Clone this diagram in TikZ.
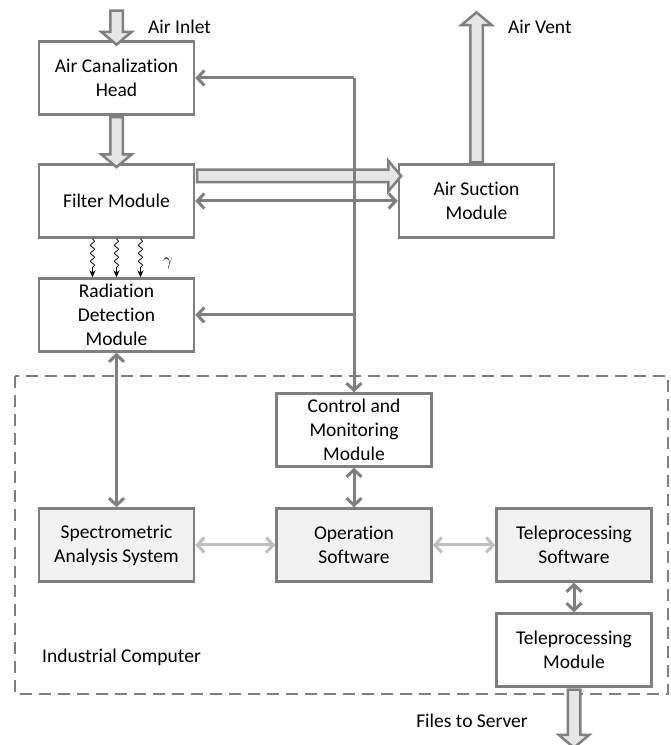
\documentclass[tikz,border=0pt]{standalone}
\usepackage{fontspec}
\setmainfont{Carlito}[Ligatures=NoCommon]
\usetikzlibrary{arrows.meta,shapes.arrows,decorations.pathmorphing,calc}
\definecolor{edge}{RGB}{127,127,127}
\definecolor{pale}{RGB}{191,191,191}
\definecolor{boxfill}{RGB}{242,242,242}
\definecolor{flowfill}{RGB}{230,230,230}
\tikzset{
  block/.style={draw=edge,line width=2.5pt,minimum width=155pt,minimum height=73pt,
    align=center,inner sep=2pt,font=\fontsize{19.5}{24}\selectfont},
  softblock/.style={block,fill=boxfill},
  tag/.style={font=\fontsize{19.5}{24}\selectfont,inner sep=0pt},
  barb/.tip={Straight Barb[length=7pt,width=15pt]},
  link/.style={draw=edge,line width=3pt,barb-barb},
  feed/.style={draw=edge,line width=3pt,-barb},
  palelink/.style={draw=pale,line width=3pt,barb-barb},
  flow/.style={single arrow,draw=edge,fill=flowfill,line width=2.5pt,inner sep=5pt,
    single arrow head extend=9pt,single arrow tip angle=100,minimum height=#1},
  ray/.style={black,line width=0.8pt,-{Stealth[length=7pt,width=6pt]},
    decorate,decoration={snake,amplitude=2pt,segment length=8pt,post length=7pt}}
}
\begin{document}
\begin{tikzpicture}[x=1pt,y=1pt]
\useasboundingbox (0,0) rectangle (671,745);
% industrial computer frame
\draw[edge,line width=2.5pt,dash pattern=on 12pt off 7pt] (15,369) rectangle (668,51);
\node[tag,anchor=west] (pc) at (42,88) {Industrial Computer};

% blocks
\node[block] (canal) at (116.5,667) {Air Canalization\\Head};
\node[block] (filter) at (116.5,544) {Filter Module};
\node[block] (rad) at (116.5,430) {Radiation\\Detection\\Module};
\node[block] (suction) at (476.5,544) {Air Suction\\Module};
\node[block] (ctrl) at (354,315) {Control and\\Monitoring\\Module};
\node[softblock] (spec) at (116.5,200) {Spectrometric\\Analysis System};
\node[softblock] (oper) at (354,200) {Operation\\Software};
\node[softblock] (telesw) at (574,200) {Teleprocessing\\Software};
\node[block] (telemod) at (574,95) {Teleprocessing\\Module};

% air flow
\node[flow=34pt,shape border rotate=270] (inlet) at (116.5,720) {};
\node[tag,anchor=west] (inlettxt) at (148,718) {Air Inlet};
\path (canal.south) -- node[flow=50pt,shape border rotate=270] (f1) {} (filter.north);
\path (filter.east |- 0,569) -- node[flow=204pt] (f2) {} (suction.west |- 0,569);
\node[flow=150pt,shape border rotate=90] (vent) at (476.5,655) {};
\node[tag,anchor=west] (venttxt) at (508,718) {Air Vent};
\node[flow=58pt,shape border rotate=270] (out) at (574,29) {};
\node[tag] (outtxt) at (472,24) {Files to Server};

% gamma rays
\foreach \dx in {-24,0,24}
  \draw[ray] ([xshift=\dx]filter.south) -- ([xshift=\dx]rad.north);
\node[font=\fontsize{16}{18}\selectfont] (gamma) at (168,482) {$\gamma$};

% control lines
\coordinate (bus) at (ctrl.north |- canal.east);
\draw[feed] (bus) -- (canal.east);
\draw[feed] (bus) -- (ctrl.north);
\draw[feed] (ctrl.north |- rad.east) -- (rad.east);
\draw[link] (filter.east) -- (suction.west);
\draw[link] (rad.south) -- (spec.north);
\draw[link] (ctrl.south) -- (oper.north);
\draw[palelink] (spec.east) -- (oper.west);
\draw[palelink] (oper.east) -- (telesw.west);
\draw[link] (telesw.south) -- (telemod.north);
\end{tikzpicture}
\end{document}
